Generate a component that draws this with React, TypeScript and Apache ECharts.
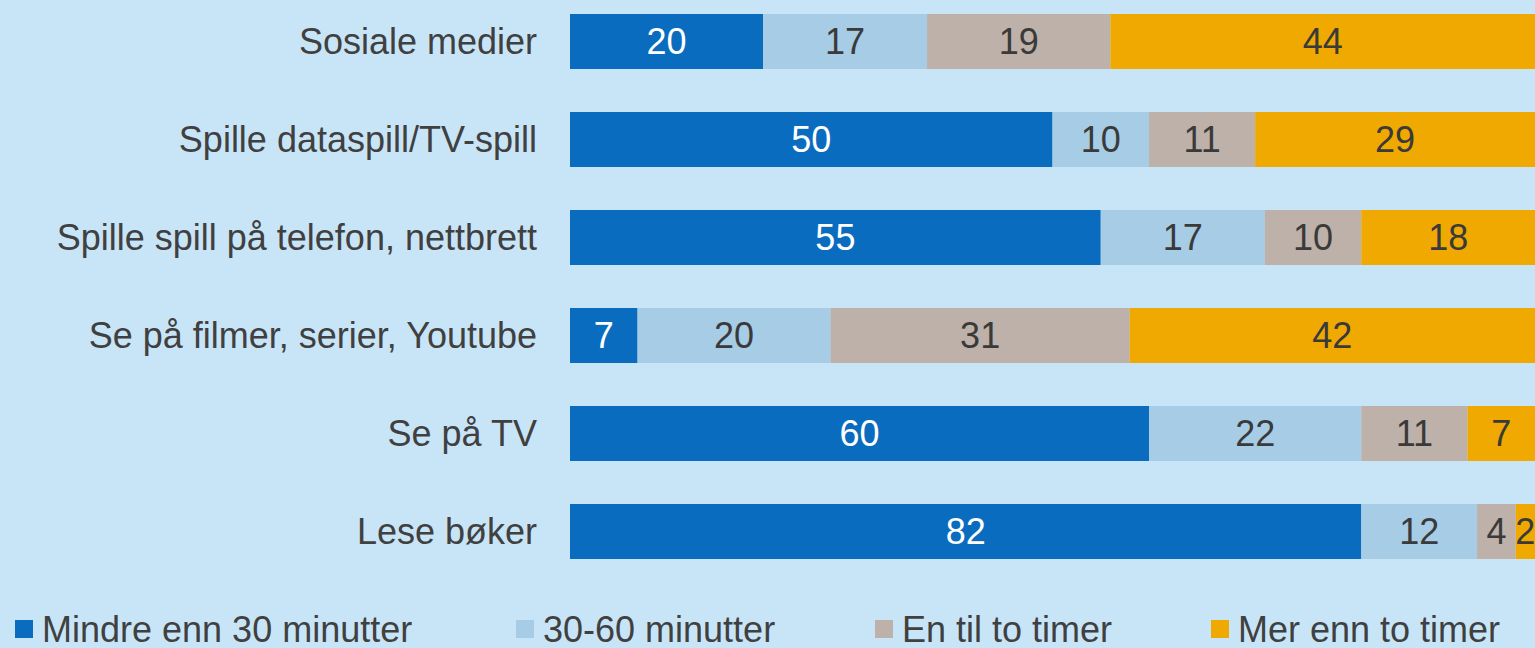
import React, { useEffect, useRef } from "react";
import * as echarts from "echarts";

const categories = [
  "Sosiale medier",
  "Spille dataspill/TV-spill",
  "Spille spill på telefon, nettbrett",
  "Se på filmer, serier, Youtube",
  "Se på TV",
  "Lese bøker",
];
const seriesNames = ["Mindre enn 30 minutter", "30-60 minutter", "En til to timer", "Mer enn to timer"];
const under30 = [20, 50, 55, 7, 60, 82];
const min30to60 = [17, 10, 17, 20, 22, 12];
const oneToTwo = [19, 11, 10, 31, 11, 4];
const moreThanTwo = [44, 29, 18, 42, 7, 2];

const colors = ["#0a6cbf", "#a6cce6", "#bdb1a9", "#f0a900"];
const labelColors = ["#ffffff", "#3a3a3a", "#3a3a3a", "#3a3a3a"];
const legendLeft = [15, 516, 875, 1211];
const FONT = "Liberation Sans, Arial, sans-serif";
const OFFSET = 20;

export default function App() {
  const ref = useRef<HTMLDivElement>(null);
  useEffect(() => {
    const chart = echarts.init(ref.current!, null, { renderer: "svg" });
    const values = [under30, min30to60, oneToTwo, moreThanTwo];
    chart.setOption({
      animation: false,
      backgroundColor: "#c8e5f8",
      textStyle: { fontFamily: FONT },
      grid: { left: 570, top: -7.5 + OFFSET, width: 966, height: 588 },
      xAxis: { type: "value", min: 0, max: 100, show: false },
      yAxis: {
        type: "category",
        data: categories,
        inverse: true,
        axisLine: { show: false },
        axisTick: { show: false },
        splitLine: { show: false },
        axisLabel: { margin: 33, fontSize: 36, color: "#404040", fontFamily: FONT },
      },
      legend: seriesNames.map((n, i) => ({
        data: [n],
        left: legendLeft[i],
        top: 629 + OFFSET - 18,
        padding: 0,
        itemWidth: 18,
        itemHeight: 18,
        icon: "rect",
        itemGap: 0,
        textStyle: { fontSize: 36, color: "#404040", padding: [0, 0, 0, 4], fontFamily: FONT },
      })),
      series: seriesNames.map((n, i) => ({
        name: n,
        type: "bar",
        stack: "total",
        data: values[i],
        barWidth: 55,
        itemStyle: { color: colors[i] },
        label: {
          show: true,
          position: "inside",
          fontSize: 36,
          color: labelColors[i],
          fontFamily: FONT,
        },
      })),
    });
    return () => chart.dispose();
  }, []);
  return (
    <div
      ref={ref}
      style={{ position: "absolute", left: 0, top: -OFFSET, width: 1535, height: 648 + OFFSET }}
    />
  );
}
